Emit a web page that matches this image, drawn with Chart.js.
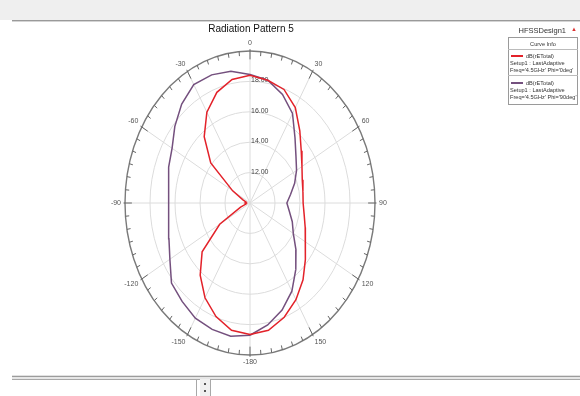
<!DOCTYPE html>
<html>
<head>
<meta charset="utf-8">
<script src="https://cdn.jsdelivr.net/npm/chart.js@4.4.0/dist/chart.umd.min.js"></script>
<style>
  html,body{margin:0;padding:0;background:#fff;}
  #wrap{position:relative;width:580px;height:396px;overflow:hidden;font-family:"Liberation Sans",Arial,sans-serif;}
  .abs{position:absolute;}
  #cv{position:absolute;left:0;top:0;}
  .lg{position:absolute;font-size:5.6px;color:#333;white-space:nowrap;line-height:6px;}
</style>
</head>
<body>
<div id="wrap">
  <div class="abs" style="left:0;top:0;width:580px;height:20px;background:#efefef;"></div>
  <div class="abs" style="left:12px;top:20px;width:568px;height:1px;background:#9a9a9a;"></div>
  <div class="abs" style="left:12px;top:21px;width:568px;height:1px;background:#d4d4d4;"></div>
  <div class="abs" style="left:12px;top:375px;width:568px;height:1px;background:#e2e2e2;"></div>
  <div class="abs" style="left:12px;top:376px;width:568px;height:1px;background:#9c9c9c;"></div>
  <div class="abs" style="left:12px;top:377px;width:568px;height:2px;background:#e6e6e6;"></div>
  <div class="abs" style="left:12px;top:379px;width:568px;height:1px;background:#a8a8a8;"></div>
  <div class="abs" style="left:196px;top:379px;width:1px;height:17px;background:#a8a8a8;"></div>
  <div class="abs" style="left:200px;top:379px;width:10px;height:17px;background:#f0f0f0;"></div>
  <div class="abs" style="left:204px;top:383px;width:2px;height:2px;background:#555;"></div>
  <div class="abs" style="left:204px;top:390px;width:2px;height:2px;background:#555;"></div>
  <div class="abs" style="left:210px;top:379px;width:1px;height:17px;background:#a8a8a8;"></div>
  <canvas id="cv" width="580" height="396"></canvas>
  <div class="abs" style="left:150px;top:23px;width:202px;text-align:center;font-size:10px;color:#111;">Radiation Pattern 5</div>
  <div class="abs" style="left:500px;top:26px;width:66px;text-align:right;font-size:7.5px;color:#333;">HFSSDesign1</div>
  <div class="abs" style="left:571px;top:26px;font-size:6px;color:#d33;">▲</div>
  <div class="abs" style="left:508px;top:37px;width:68px;height:66px;border:1px solid #9a9a9a;background:#fff;"></div>
  <div class="lg" style="left:508px;top:41px;width:70px;text-align:center;">Curve Info</div>
  <div class="abs" style="left:508px;top:49px;width:70px;height:1px;background:#bbb;"></div>
  <div class="abs" style="left:511px;top:55px;width:12px;height:2px;background:#e3222a;"></div>
  <div class="lg" style="left:526px;top:53px;">dB(rETotal)</div>
  <div class="lg" style="left:510px;top:60px;">Setup1 : LastAdaptive</div>
  <div class="lg" style="left:510px;top:67px;">Freq='4.5GHz' Phi='0deg'</div>
  <div class="abs" style="left:508px;top:75px;width:70px;height:1px;background:#bbb;"></div>
  <div class="abs" style="left:511px;top:82px;width:12px;height:2px;background:#74507e;"></div>
  <div class="lg" style="left:526px;top:80px;">dB(rETotal)</div>
  <div class="lg" style="left:510px;top:87px;">Setup1 : LastAdaptive</div>
  <div class="lg" style="left:510px;top:94px;">Freq='4.5GHz' Phi='90deg'</div>
</div>
<script>
// ---- data ----
const angles = [-180,-170,-160,-150,-140,-130,-120,-110,-100,-90,-80,-70,-60,-50,-40,-30,-20,-10,0,10,20,30,40,50,60,70,80,90,100,110,120,130,140,150,160,170,180];
const phi0deg = [18.65,18.5,17.95,17.2,16.2,15.0,12.8,10.8,10.3,10.4,10.3,10.6,11.6,14.1,15.7,16.9,17.75,18.25,18.4,18.2,17.95,17.25,16.2,15.35,14.8,14.45,14.3,14.25,14.4,14.7,15.1,15.8,16.6,17.35,18.0,18.5,18.65];
const phi90deg = [18.7,18.9,18.85,18.75,18.45,18.2,17.4,16.9,16.6,16.5,16.65,16.9,17.2,17.85,18.5,19.0,18.97,18.8,18.45,18.2,17.6,16.8,15.6,14.8,14.3,13.8,13.3,12.95,13.2,13.6,14.0,14.8,15.7,16.7,17.5,18.15,18.7];
const radialTicks = [12,14,16,18];
const radialTickLabels = ["12.00","14.00","16.00","18.00"];
const angleTicks = [0,30,60,90,120,150,180,-150,-120,-90,-60,-30];
const angleTickLabels = ["0","30","60","90","120","150","-180","-150","-120","-90","-60","-30"];
const rMin = 10, rMax = 20;

function toXY(vals){
  return angles.map((a,i)=>{
    const r = Math.max(vals[i], rMin) - rMin;
    const t = a*Math.PI/180;
    return {x: r*Math.sin(t), y: r*Math.cos(t)};
  });
}

const polarGrid = {
  id:'polarGrid',
  beforeDatasetsDraw(chart){
    const ctx = chart.ctx, xs = chart.scales.x, ys = chart.scales.y;
    const cx = xs.getPixelForValue(0), cy = ys.getPixelForValue(0);
    const ux = xs.getPixelForValue(1)-cx, uy = cy-ys.getPixelForValue(1);
    const R = rMax - rMin;
    const pt = (a,r)=>{const t=a*Math.PI/180; return [cx+(r-rMin)*ux*Math.sin(t), cy-(r-rMin)*uy*Math.cos(t)];};
    ctx.save();
    // rings
    ctx.strokeStyle = '#dcdcdc'; ctx.lineWidth = 1;
    radialTicks.forEach(r=>{ctx.beginPath();ctx.ellipse(cx,cy,(r-rMin)*ux,(r-rMin)*uy,0,0,2*Math.PI);ctx.stroke();});
    // spokes
    for(let a=0;a<360;a+=30){const p=pt(a,rMax);ctx.beginPath();ctx.moveTo(cx,cy);ctx.lineTo(p[0],p[1]);ctx.stroke();}
    // outer ring
    ctx.strokeStyle = '#7a7a7a'; ctx.lineWidth = 1.4;
    ctx.beginPath();ctx.ellipse(cx,cy,R*ux,R*uy,0,0,2*Math.PI);ctx.stroke();
    // ticks
    ctx.lineWidth = 1; ctx.strokeStyle = '#666';
    for(let a=0;a<360;a+=5){
      const major = a%30===0;
      const p1 = pt(a, major? rMax+0.12 : rMax), p2 = pt(a, major? rMax-0.55 : rMax-0.3);
      ctx.beginPath();ctx.moveTo(p1[0],p1[1]);ctx.lineTo(p2[0],p2[1]);ctx.stroke();
    }
    // angle labels
    ctx.fillStyle = '#555'; ctx.font = '7px "Liberation Sans", Arial, sans-serif';
    angleTicks.forEach((a,i)=>{
      const t=a*Math.PI/180, s=Math.sin(t), c=Math.cos(t);
      const p = pt(a, rMax);
      const off = 4;
      const x = p[0]+off*s, y = p[1]-off*c;
      ctx.textAlign = Math.abs(s)<0.05?'center':(s>0?'left':'right');
      ctx.textBaseline = Math.abs(c)<0.05?'middle':(c>0?'bottom':'top');
      ctx.fillText(angleTickLabels[i], x, y);
    });
    // radial labels
    ctx.fillStyle = '#444'; ctx.textAlign='left'; ctx.textBaseline='middle';
    radialTicks.forEach((r,i)=>{const p=pt(0,r); ctx.fillText(radialTickLabels[i], cx+1, p[1]-1);});
    ctx.restore();
  }
};

new Chart(document.getElementById('cv'), {
  type:'scatter',
  data:{datasets:[
    {label:"dB(rETotal) Phi='0deg'", data:toXY(phi0deg), showLine:true, borderColor:'#e3222a', borderWidth:1.5, pointRadius:0, fill:false, tension:0},
    {label:"dB(rETotal) Phi='90deg'", data:toXY(phi90deg), showLine:true, borderColor:'#74507e', borderWidth:1.5, pointRadius:0, fill:false, tension:0}
  ]},
  options:{
    responsive:false, animation:false,
    layout:{padding:{left:125,right:205,top:51,bottom:41}},
    scales:{
      x:{type:'linear',min:-(rMax-rMin),max:rMax-rMin,display:false},
      y:{type:'linear',min:-(rMax-rMin),max:rMax-rMin,display:false}
    },
    plugins:{legend:{display:false},tooltip:{enabled:false},title:{display:false}},
    clip:false
  },
  plugins:[polarGrid]
});
</script>
</body>
</html>
